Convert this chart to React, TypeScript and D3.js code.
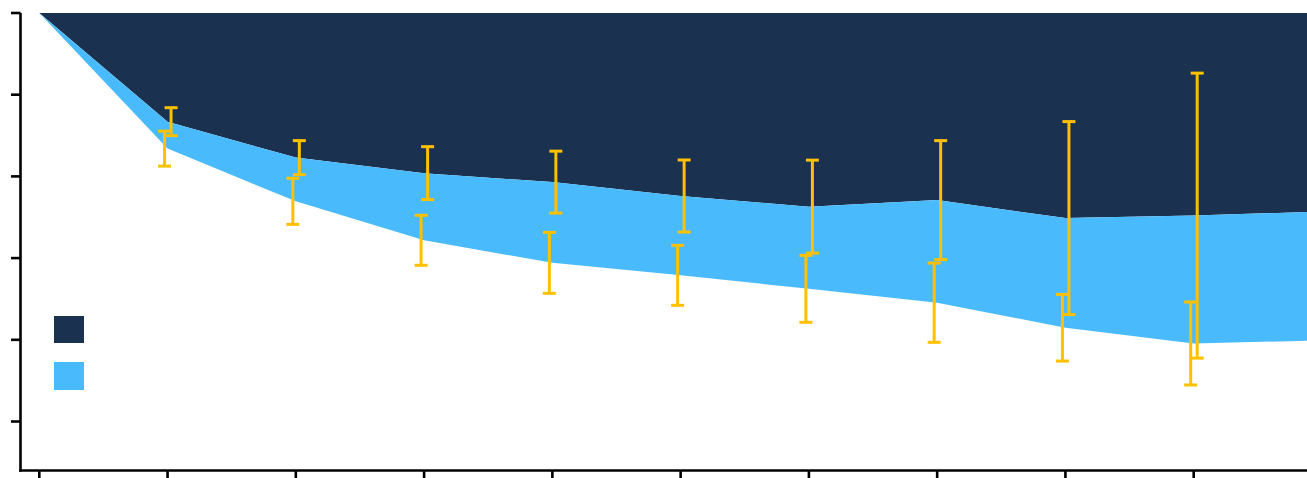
import React from "react";
import * as d3 from "d3";

// Time points (x ticks 0..9); index 10 is the extension beyond the right edge
const timePoints = [0, 1, 2, 3, 4, 5, 6, 7, 8, 9, 10];
// Upper boundary (dark series)
const upperValues = [1.0, 0.867, 0.823, 0.804, 0.793, 0.776, 0.763, 0.771, 0.749, 0.752, 0.757];
const upperErrors = [0, 0.0171, 0.0208, 0.0324, 0.0379, 0.0441, 0.0569, 0.0728, 0.1181, 0.1744];
// Lower boundary (light series)
const lowerValues = [1.0, 0.834, 0.7695, 0.7218, 0.6942, 0.6789, 0.6624, 0.6454, 0.6148, 0.5955, 0.5993];
const lowerErrors = [0, 0.0214, 0.0282, 0.0306, 0.0373, 0.0367, 0.041, 0.0485, 0.0408, 0.0508];
const xTicks = [0, 1, 2, 3, 4, 5, 6, 7, 8, 9];
const yTicks = [0.5, 0.6, 0.7, 0.8, 0.9, 1.0];

const W = 1307;
const H = 478;
const NAVY = "#1B3150";
const LIGHT = "#49BBFD";
const GOLD = "#FFC000";

export default function App() {
  const x = d3.scaleLinear().domain([0, 9]).range([39.3, 1193.7]);
  const y = d3.scaleLinear().domain([0.5, 1.0]).range([421.5, 13]);
  const top = y(1.0);
  const axisY = 470.5;
  const axisX = 20.5;

  const data = timePoints.map((t, i) => ({ t, u: upperValues[i], l: lowerValues[i] }));

  const darkArea = d3
    .area<any>()
    .x((d) => x(d.t))
    .y0(() => top)
    .y1((d) => y(d.u))(data);
  const lightArea = d3
    .area<any>()
    .x((d) => x(d.t))
    .y0((d) => y(d.u))
    .y1((d) => y(d.l))(data);

  const capHalf = 6.5;
  const bars = (vals: number[], errs: number[], dx: number, key: string) =>
    xTicks
      .filter((t) => errs[t] > 0)
      .map((t) => {
        const cx = x(t) + dx;
        const y1 = y(vals[t] + errs[t]);
        const y2 = y(vals[t] - errs[t]);
        return (
          <g key={key + t} stroke={GOLD} strokeWidth={3} fill="none">
            <line x1={cx} x2={cx} y1={y1} y2={y2} />
            <line x1={cx - capHalf} x2={cx + capHalf} y1={y1} y2={y1} />
            <line x1={cx - capHalf} x2={cx + capHalf} y1={y2} y2={y2} />
          </g>
        );
      });

  return (
    <div style={{ position: "fixed", left: 0, top: 0, width: W, height: H, background: "#fff" }}>
      <svg width={W} height={H} style={{ display: "block" }}>
        <rect x={0} y={0} width={W} height={H} fill="#fff" />
        <path d={darkArea || ""} fill={NAVY} />
        <path d={lightArea || ""} fill={LIGHT} />
        {bars(lowerValues, lowerErrors, -3, "l")}
        {bars(upperValues, upperErrors, 3.5, "u")}
        {/* legend swatches */}
        <rect x={54} y={316} width={30} height={27} fill={NAVY} />
        <rect x={54} y={362} width={30} height={28} fill={LIGHT} />
        {/* axes */}
        <line x1={axisX} x2={axisX} y1={top} y2={axisY + 1.2} stroke="#000" strokeWidth={2.6} />
        <line x1={axisX - 1.2} x2={W} y1={axisY} y2={axisY} stroke="#000" strokeWidth={2.6} />
        {yTicks.map((v) => (
          <line key={"yt" + v} x1={11} x2={axisX} y1={y(v)} y2={y(v)} stroke="#000" strokeWidth={2.6} />
        ))}
        {xTicks.map((t) => (
          <line key={"xt" + t} x1={x(t)} x2={x(t)} y1={axisY} y2={H} stroke="#000" strokeWidth={2.6} />
        ))}
      </svg>
    </div>
  );
}
